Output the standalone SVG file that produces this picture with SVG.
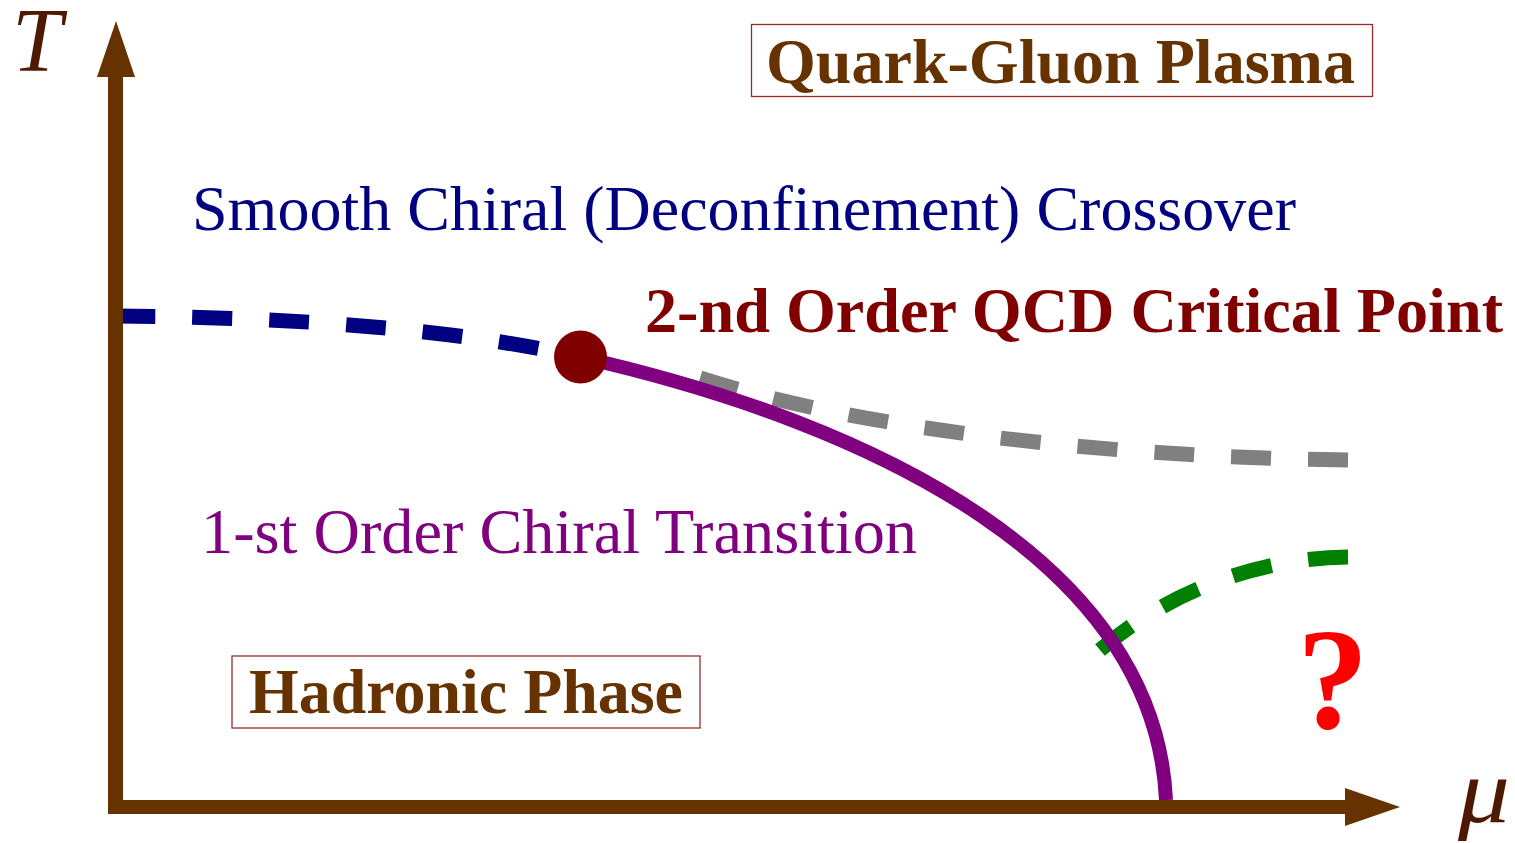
<svg xmlns="http://www.w3.org/2000/svg" width="1515" height="843" viewBox="0 0 1515 843">
<defs>
<style>
.dash{fill:none;stroke-width:15;stroke-dasharray:40 37}
.ser{font-family:"Liberation Serif","Times New Roman",serif}
.b{font-weight:bold}
.box{fill:#ffffff;stroke:#9a2a2a;stroke-width:1.3}
.axis{fill:#663300}
.var{font-family:"Liberation Serif","Times New Roman",serif;font-style:italic;font-size:90px;fill:#4d1900}
</style>
</defs>
<rect width="1515" height="843" fill="#ffffff"/>
<g id="connectors">
<path id="crossover" class="dash" stroke="#000080" d="M115,316 C300,317 460,330 580,357"/>
<path id="gray-line" class="dash" stroke="#808080" d="M1348,460 C1150,458 880,436 700,378"/>
<path id="green-line" class="dash" stroke="#008000" d="M1348,557 C1260,558 1170,590 1100,650"/>
<path id="first-order" fill="none" stroke="#800080" stroke-width="14" d="M580,357 C880,425 1155,565 1166,800"/>
</g>
<g id="axes">
<rect class="axis" x="108" y="72" width="15" height="742"/>
<polygon class="axis" points="116,21 97,77 135,77"/>
<rect class="axis" x="108" y="800" width="1242" height="14"/>
<polygon class="axis" points="1400,807 1345,788 1345,826"/>
<text class="var" x="12" y="71">T</text>
<text class="var" x="1458" y="822" font-size="94" textLength="52" lengthAdjust="spacingAndGlyphs">μ</text>
</g>
<g id="critical-point">
<circle cx="580.5" cy="357" r="26.5" fill="#800000"/>
</g>
<g id="qgp">
<rect class="box" x="751.5" y="24.5" width="621" height="72"/>
<text class="ser b" x="766" y="83" font-size="64" fill="#663300" textLength="589" lengthAdjust="spacingAndGlyphs">Quark-Gluon Plasma</text>
</g>
<g id="crossover-label">
<text class="ser" x="192" y="230" font-size="64" fill="#000080" textLength="1104" lengthAdjust="spacingAndGlyphs">Smooth Chiral (Deconfinement) Crossover</text>
</g>
<g id="critical-label">
<text class="ser b" x="645" y="332" font-size="64" fill="#800000" textLength="858" lengthAdjust="spacingAndGlyphs">2-nd Order QCD Critical Point</text>
</g>
<g id="first-order-label">
<text class="ser" x="201" y="553" font-size="64" fill="#800080" textLength="716" lengthAdjust="spacingAndGlyphs">1-st Order Chiral Transition</text>
</g>
<g id="hadronic">
<rect class="box" x="232" y="656" width="468" height="72"/>
<text class="ser b" x="249" y="713" font-size="64" fill="#663300" textLength="434" lengthAdjust="spacingAndGlyphs">Hadronic Phase</text>
</g>
<g id="unknown">
<text class="ser b" x="1297" y="728" font-size="143" fill="#ff0000">?</text>
</g>
</svg>
